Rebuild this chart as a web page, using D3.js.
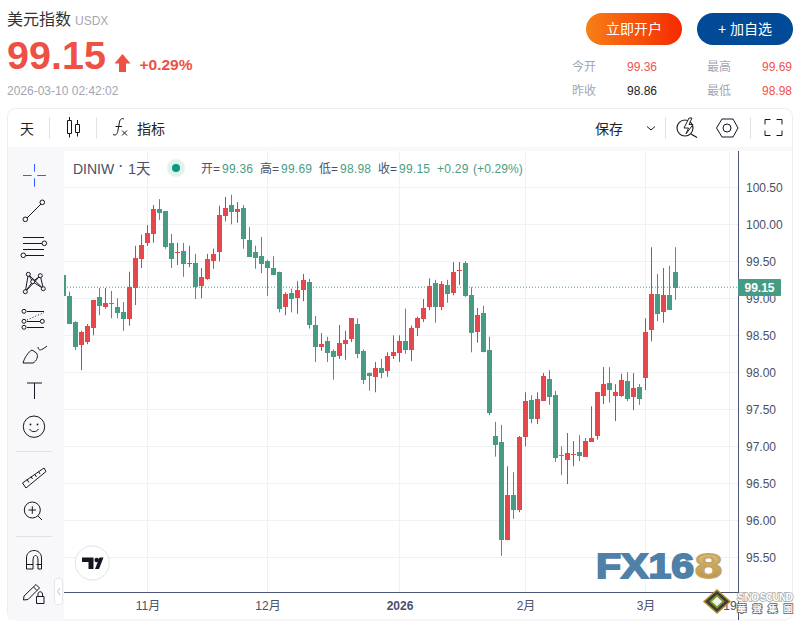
<!DOCTYPE html>
<html>
<head>
<meta charset="utf-8">
<script src="https://cdn.jsdelivr.net/npm/d3@7/dist/d3.min.js"></script>
<style>
html,body{margin:0;padding:0;background:#fff;overflow:hidden}
svg{display:block}
text{font-family:"Liberation Sans","Noto Sans CJK SC",sans-serif}
</style>
</head>
<body>
<svg id="c" width="803" height="623"></svg>
<script>
const opens=[99.31,99.03,98.68,98.36,98.41,98.60,99.02,98.88,98.94,98.88,
98.81,98.72,99.13,99.53,99.75,99.87,100.21,100.18,99.75,99.61,
99.64,99.46,99.48,99.17,99.26,99.50,99.63,100.11,100.26,100.17,
100.22,99.79,99.63,99.57,99.50,99.41,99.36,98.88,99.07,99.00,
99.11,99.22,98.64,98.34,98.42,98.29,98.22,98.38,98.44,98.65,
98.29,97.99,97.94,98.06,98.02,98.22,98.26,98.42,98.30,98.60,
98.72,98.88,99.21,98.88,99.18,99.07,99.37,99.48,99.04,98.54,
98.80,98.30,97.14,97.06,95.73,96.34,96.14,97.13,97.63,97.37,
97.61,97.91,97.69,96.88,96.81,96.88,96.92,96.86,97.06,97.13,
97.68,97.86,97.68,97.68,97.88,97.67,97.80,97.92,98.57,99.06,
98.81,99.04,99.36];
const closes=[99.03,98.65,98.34,98.54,98.63,98.98,98.90,98.94,98.92,98.80,
98.72,99.15,99.54,99.72,99.88,100.21,100.15,99.69,99.54,99.63,
99.46,99.48,99.15,99.29,99.53,99.60,100.13,100.22,100.17,100.21,
99.80,99.56,99.55,99.46,99.40,99.31,98.86,99.06,98.99,99.11,
99.25,98.64,98.34,98.38,98.26,98.21,98.40,98.44,98.73,98.25,
97.90,97.95,98.06,97.99,98.22,98.27,98.42,98.30,98.60,98.73,
98.87,99.17,98.88,99.19,99.06,99.36,99.38,99.03,98.53,98.77,
98.27,97.45,97.02,95.73,96.34,96.14,97.13,97.61,97.37,97.64,
97.95,97.67,96.84,96.86,96.91,96.90,96.86,97.07,97.11,97.73,
97.84,97.76,97.73,97.90,97.64,97.79,97.64,98.54,99.06,98.79,
99.04,98.84,99.15];
const highs=[99.40,99.09,98.69,98.56,98.65,98.98,99.14,99.14,99.10,99.00,
98.95,99.36,99.71,99.86,99.99,100.26,100.34,100.18,99.87,99.75,
99.75,99.71,99.60,99.41,99.60,99.67,100.25,100.37,100.40,100.30,
100.26,99.96,99.71,99.83,99.52,99.57,99.36,99.08,99.13,99.23,
99.33,99.26,98.76,98.53,98.48,98.31,98.64,98.56,98.73,98.73,
98.31,98.00,98.14,98.18,98.27,98.50,98.50,98.86,98.63,98.75,
98.99,99.27,99.25,99.23,99.25,99.49,99.49,99.50,99.15,98.87,
98.90,98.48,97.33,97.29,96.73,96.65,97.14,97.73,97.69,97.73,
97.99,98.03,97.75,97.00,97.18,97.07,97.15,97.11,97.54,97.73,
98.07,98.07,97.84,97.98,98.00,97.99,97.84,98.73,99.69,99.33,
99.41,99.44,99.69];
const lows=[98.95,98.65,98.30,98.03,98.38,98.50,98.77,98.86,98.73,98.73,
98.56,98.63,98.91,99.41,99.71,99.75,100.06,99.67,99.41,99.45,
99.29,99.42,98.99,99.00,99.25,99.40,99.50,100.04,100.00,100.02,
99.67,99.56,99.40,99.34,99.03,99.31,98.81,98.77,98.81,98.79,
98.96,98.59,98.14,98.29,98.14,97.90,98.18,98.17,98.41,98.19,
97.84,97.75,97.73,97.92,97.94,98.18,98.14,98.25,98.15,98.49,
98.68,98.84,98.67,98.84,98.94,99.04,99.18,99.02,98.27,98.40,
98.27,97.42,96.86,95.52,95.73,96.02,96.11,97.00,97.31,97.30,
97.61,97.56,96.79,96.61,96.49,96.73,96.80,96.86,97.06,97.09,
97.57,97.59,97.34,97.67,97.61,97.49,97.56,97.76,98.42,98.69,
98.67,98.84,98.98];
const priceTicks=[100.5,100,99.5,99,98.5,98,97.5,97,96.5,96,95.5];
const timeTickIndex=[14,34,56,77,97,111];
const timeTickLabels=["11月","12月","2026","2月","3月","19"];
const lastPrice=99.15;

const svg=d3.select("#c");
const INK="#131722", AXIS="#4a5578", GRID="#f0f1f4", PANEL="#f8f8fa";
const UP="#e5484c", DOWN="#459b84", UPW="#ad4d59", DOWNW="#55916f";
const RED="#ee5043", GREY="#a3a6b2";
const defs=svg.append("defs");
const g1=defs.append("linearGradient").attr("id","btn");
g1.append("stop").attr("offset","0").attr("stop-color","#f77f17");
g1.append("stop").attr("offset","1").attr("stop-color","#f52a00");
const g2=defs.append("linearGradient").attr("id","gold").attr("x1",0).attr("y1",0).attr("x2",0).attr("y2",1);
g2.append("stop").attr("offset","0").attr("stop-color","#e6cb8c");
g2.append("stop").attr("offset","1").attr("stop-color","#b08a3c");
defs.append("clipPath").attr("id","pane").append("rect").attr("x",64).attr("y",151).attr("width",674).attr("height",441);

function T(x,y,s,size,fill,opt){opt=opt||{};
  const t=svg.append("text").attr("x",x).attr("y",y).attr("font-size",size).attr("fill",fill).text(s);
  if(opt.weight)t.attr("font-weight",opt.weight);
  if(opt.anchor)t.attr("text-anchor",opt.anchor);
  if(opt.ls)t.attr("letter-spacing",opt.ls);
  return t;}
function P(d,stroke,w,fill){return svg.append("path").attr("d",d).attr("fill",fill||"none").attr("stroke",stroke||"none").attr("stroke-width",w==null?1:w);}
function C(x,y,r,stroke,w,fill){return svg.append("circle").attr("cx",x).attr("cy",y).attr("r",r).attr("fill",fill||"none").attr("stroke",stroke||"none").attr("stroke-width",w==null?1:w);}

// header
T(7,25,"美元指数",16,"#333");
T(75,25,"USDX",12,GREY);
T(7,68.5,"99.15",39.5,RED,{weight:"bold"});
P("M122.5 54 L130.5 63.5 L126 63.5 L126 72 L119 72 L119 63.5 L114.5 63.5 Z",null,0,RED);
T(139.5,70,"+0.29%",15.5,RED,{weight:"bold"});
T(7,95,"2026-03-10 02:42:02",12,GREY);
svg.append("rect").attr("x",586).attr("y",13).attr("width",96).attr("height",32).attr("rx",16).attr("fill","url(#btn)");
T(634,34,"立即开户",14,"#fff",{anchor:"middle"});
svg.append("rect").attr("x",697).attr("y",13).attr("width",96).attr("height",32).attr("rx",16).attr("fill","#004a97");
T(745,34,"+ 加自选",14,"#fff",{anchor:"middle"});
T(572,71,"今开",12,GREY);T(627,71,"99.36",12,"#f0524f");
T(707,71,"最高",12,GREY);T(762,71,"99.69",12,"#f0524f");
T(572,95,"昨收",12,GREY);T(627,95,"98.86",12,"#222");
T(707,95,"最低",12,GREY);T(762,95,"98.98",12,"#f0524f");

// card
svg.append("rect").attr("x",7.5).attr("y",108.5).attr("width",785).attr("height",511.5).attr("rx",8).attr("fill","#fff").attr("stroke","#eeeef1");
svg.append("rect").attr("x",8).attr("y",147).attr("width",784).attr("height",4).attr("fill",PANEL);
svg.append("rect").attr("x",8).attr("y",151).attr("width",56).attr("height",469).attr("fill",PANEL);

// top toolbar
T(20,134,"天",14,"#222");
P("M49.5 117V139M96.5 117V139M665.5 117V139M750.5 117V139","#e0e3eb",1);
P("M69.5 117V120M69.5 133.5V137.5M67.5 120.5H71.5V133.5H67.5ZM77.5 120V124.5M77.5 132.5V136.5M75.5 124.5H79.5V132.5H75.5Z",INK,1);
P("M113 134.5C116 136 117.5 134 118 130L119.5 122C120 119 122 118 124 119M115.5 126.5H122",INK,1);
P("M122 130.5L127 135.5M127 130.5L122 135.5",INK,1);
T(137,134,"指标",14,"#222");
T(595,134,"保存",14,"#222");
P("M647 126.5L651 130L655 126.5",INK,1);
C(685,128,8,INK,1.1);
P("M689 118L684 128H688.5L686 134L693 124.5H689L692 118Z","#222",1,"#fff");
P("M691 134L697 137.5",INK,1.2);
P("M716.5 128L722 119H733L738 128L733 137H722Z",INK,1);
C(727,128,4,INK,1);
P("M765 124.5V119.5H770.5M776.5 119.5H782V124.5M782 130.5V135.5H776.5M770.5 135.5H765V130.5",INK,1);

// scales
const x=d3.scaleLinear().domain([0,102]).range([63.5,675.5]);
const y=d3.scaleLinear().domain([100,95.5]).range([224.3,557.3]);

// grid
const grid=svg.append("g").attr("stroke",GRID).attr("stroke-width",1);
grid.selectAll("line.h").data(priceTicks).join("line").attr("class","h")
  .attr("x1",64).attr("x2",738).attr("y1",d=>Math.round(y(d))+.5).attr("y2",d=>Math.round(y(d))+.5);
grid.selectAll("line.v").data(timeTickIndex).join("line").attr("class","v")
  .attr("y1",151).attr("y2",592).attr("x1",d=>Math.floor(x(d))+.5).attr("x2",d=>Math.floor(x(d))+.5);

// watermark under the series
const wm=svg.append("g");
wm.append("text").attr("x",596).attr("y",577.5).attr("font-size",35).attr("font-weight","bold").attr("fill","#4f80a8")
  .attr("stroke","#4f80a8").attr("stroke-width",1.8).attr("textLength",98).attr("lengthAdjust","spacingAndGlyphs").text("FX16");
wm.append("text").attr("x",695).attr("y",577.5).attr("font-size",35).attr("font-weight","bold").attr("fill","url(#gold)")
  .attr("stroke","#c4a45f").attr("stroke-width",1.8).attr("textLength",27).attr("lengthAdjust","spacingAndGlyphs").text("8");

// candles
const data=opens.map((o,i)=>({i,o,c:closes[i],h:highs[i],l:lows[i]}));
const plot=svg.append("g").attr("clip-path","url(#pane)");
plot.selectAll("line.w").data(data).join("line").attr("class","w")
  .attr("x1",d=>x(d.i)).attr("x2",d=>x(d.i)).attr("y1",d=>y(d.h)).attr("y2",d=>y(d.l))
  .attr("stroke",d=>d.c>=d.o?UPW:DOWNW).attr("stroke-width",1);
plot.selectAll("rect.b").data(data).join("rect").attr("class","b")
  .attr("x",d=>x(d.i)-2.5).attr("width",5)
  .attr("y",d=>Math.round(y(Math.max(d.o,d.c))))
  .attr("height",d=>Math.max(1,Math.round(Math.abs(y(d.o)-y(d.c)))))
  .attr("fill",d=>d.c>=d.o?UP:DOWN);

// last price line
svg.append("line").attr("x1",64).attr("x2",738).attr("y1",y(lastPrice)).attr("y2",y(lastPrice))
  .attr("stroke",DOWN).attr("stroke-width",1).attr("stroke-dasharray","1 2");

// axes
const yAxis=d3.axisRight(y).tickValues(priceTicks).tickFormat(d3.format(".2f")).tickSize(0).tickPadding(8);
const ya=svg.append("g").attr("transform","translate(738,0)").call(yAxis);
ya.select(".domain").remove();
ya.selectAll("text").attr("font-size",12).attr("fill","#4a5068").attr("font-family","'Liberation Sans'");
const xAxis=d3.axisBottom(x).tickValues(timeTickIndex).tickFormat((d,i)=>timeTickLabels[i]).tickSize(0).tickPadding(9);
const xa=svg.append("g").attr("transform","translate(0,592)").call(xAxis);
xa.select(".domain").remove();
xa.selectAll("text").attr("font-size",12).attr("fill","#4a5068").attr("font-family","'Liberation Sans','Noto Sans CJK SC'")
  .attr("font-weight",(d,i)=>timeTickLabels[i]==="2026"?"bold":null);
P("M64 592.5H738.5M738.5 151V620",AXIS,1);
svg.append("rect").attr("x",738).attr("y",279).attr("width",43).attr("height",17).attr("rx",1).attr("fill",DOWN);
T(759.5,292,"99.15",12,"#fff",{anchor:"middle",weight:"bold"});

// legend
T(73,174,"DINIW",14,"#4a5068");
C(120.7,166,1.1,null,0,"#4a5068");
T(128,174,"1天",14.5,"#4a5068");
C(176,168,9,null,0,"#dff3ee");
C(176,168,4,null,0,"#0a9a80");
[[201,"开",99.36],[260,"高",99.69],[319,"低",98.98],[378,"收",99.15]].forEach(a=>{
  T(a[0],173,a[1]+"=",12,"#4a5068");
  T(a[0]+21,173,a[2].toFixed(2),12,"#4a9d83",{ls:.25});
});
T(437,173,"+0.29",12,"#4a9d83",{ls:.25});
T(473,173,"(+0.29%)",12,"#4a9d83",{ls:.1});

// left tool icons
const I=INK;
P("M23 175.5H31.7M37.3 175.5H46M34.5 164V171.7M34.5 178.3V186.7","#2962ff",1);
P("M27 218L41 204",I,1);C(25.3,219.3,2.3,I,1);C(42.3,202.3,2.3,I,1);
P("M23 237.5H44M23 243.5H42M23 249.5H44M26 255.5H44",I,1);C(44.3,243.3,2.3,I,1,PANEL);C(23.3,255.3,2.3,I,1,PANEL);
P("M28.3 274.3L25.3 291.7L32.7 281.7L28.3 274.3M32.7 281.7L40.3 275.7L43.3 288.7L32.7 281.7M28.3 274.3L43.3 288.7M40.3 275.7L25.3 291.7",I,1);
[[28.3,274.3],[40.3,275.7],[32.7,281.7],[43.3,288.7],[25.3,291.7]].forEach(p=>C(p[0],p[1],2,I,1,PANEL));
P("M27 311.5H44M27 321.5H40M27 327.5H44",I,1);
P("M27 320L44 312.5",I,1).attr("stroke-dasharray","1 2");
[[24,311.3],[24,321.3],[24,327.3],[42.3,321.3]].forEach(p=>C(p[0],p[1],2,I,1,PANEL));
P("M23 363H33C37 361 38.5 356 36.5 353L32 350C28 352 24.5 358 23 363ZM38 347C38.5 351 41 351 47 346",I,1);
P("M27 383H42M34.5 383V399",I,1);
C(34,426.7,10.7,I,1);C(30.5,424.5,.9,null,0,I);C(37.5,424.5,.9,null,0,I);P("M29.5 429C31.5 432.5 36.5 432.5 38.5 429",I,1);
P("M16 451.5H52M16 536.5H52","#dfe1e8",1);
P("M22.5 483L44 468L46 471.5L26 488Z M27 479.5L29 482.5M31 476.5L32.5 479M34.5 474L36.5 477M38.5 471.5L40 474",I,1);
C(32.3,510,8,I,1);P("M28.5 510H36M32.3 506.2V513.8M38 516L42 520",I,1);
P("M26.5 569H33V560C33 554 38 554 38 560V569H41.5V558C41.5 548 26.5 548 26.5 558V569ZM26.5 564.5H33M36.5 564.5H41.5",I,1);
P("M23.5 600L24 596L36 584.5L39.5 588L28 599.5ZM33.5 587L37 590.5",I,1);
P("M36.5 596.5H44V603.5H36.5ZM38 596.5V594C38 591 42.5 591 42.5 594V596.5",I,1);
svg.append("rect").attr("x",54.5).attr("y",578.5).attr("width",8).attr("height",26).attr("rx",3).attr("fill","#fff").attr("stroke","#e4e5ea");
P("M60 588L57.5 591.5L60 595","#b8bbc6",1);

// TradingView mark
C(92.3,563,17,"#e0e3eb",1,"#fff");
P("M82 557.5H93.5V569H88.5V562H82Z",null,0,"#131722");
C(96.7,560,2.3,null,0,"#131722");
P("M95 569L99.5 557.5H103.5L99 569Z",null,0,"#131722");

// Sino Sound stamp
const ss=svg.append("g");
ss.append("path").attr("d","M717 590L730 601.5L717 613L704 601.5Z").attr("fill","#3a3a3a").attr("stroke","#b48e2c").attr("stroke-width",1.5);
ss.append("path").attr("d","M717 595.5L723.5 601.5L717 607.5L710.5 601.5Z").attr("fill","#f4f4ee").attr("stroke","#7f9a2c").attr("stroke-width",1.8);
ss.append("text").attr("x",737).attr("y",600.5).attr("font-size",10.5).attr("font-weight","bold").attr("fill","#fff").attr("stroke","#a8a8a8").attr("stroke-width",1.6).attr("paint-order","stroke").attr("textLength",56).text("SINO SOUND");
ss.append("text").attr("x",737).attr("y",611.5).attr("font-size",9.5).attr("font-weight","bold").attr("fill","#fff").attr("stroke","#666").attr("stroke-width",1.6).attr("paint-order","stroke").attr("textLength",56).text("華聲集團");
</script>
</body>
</html>
